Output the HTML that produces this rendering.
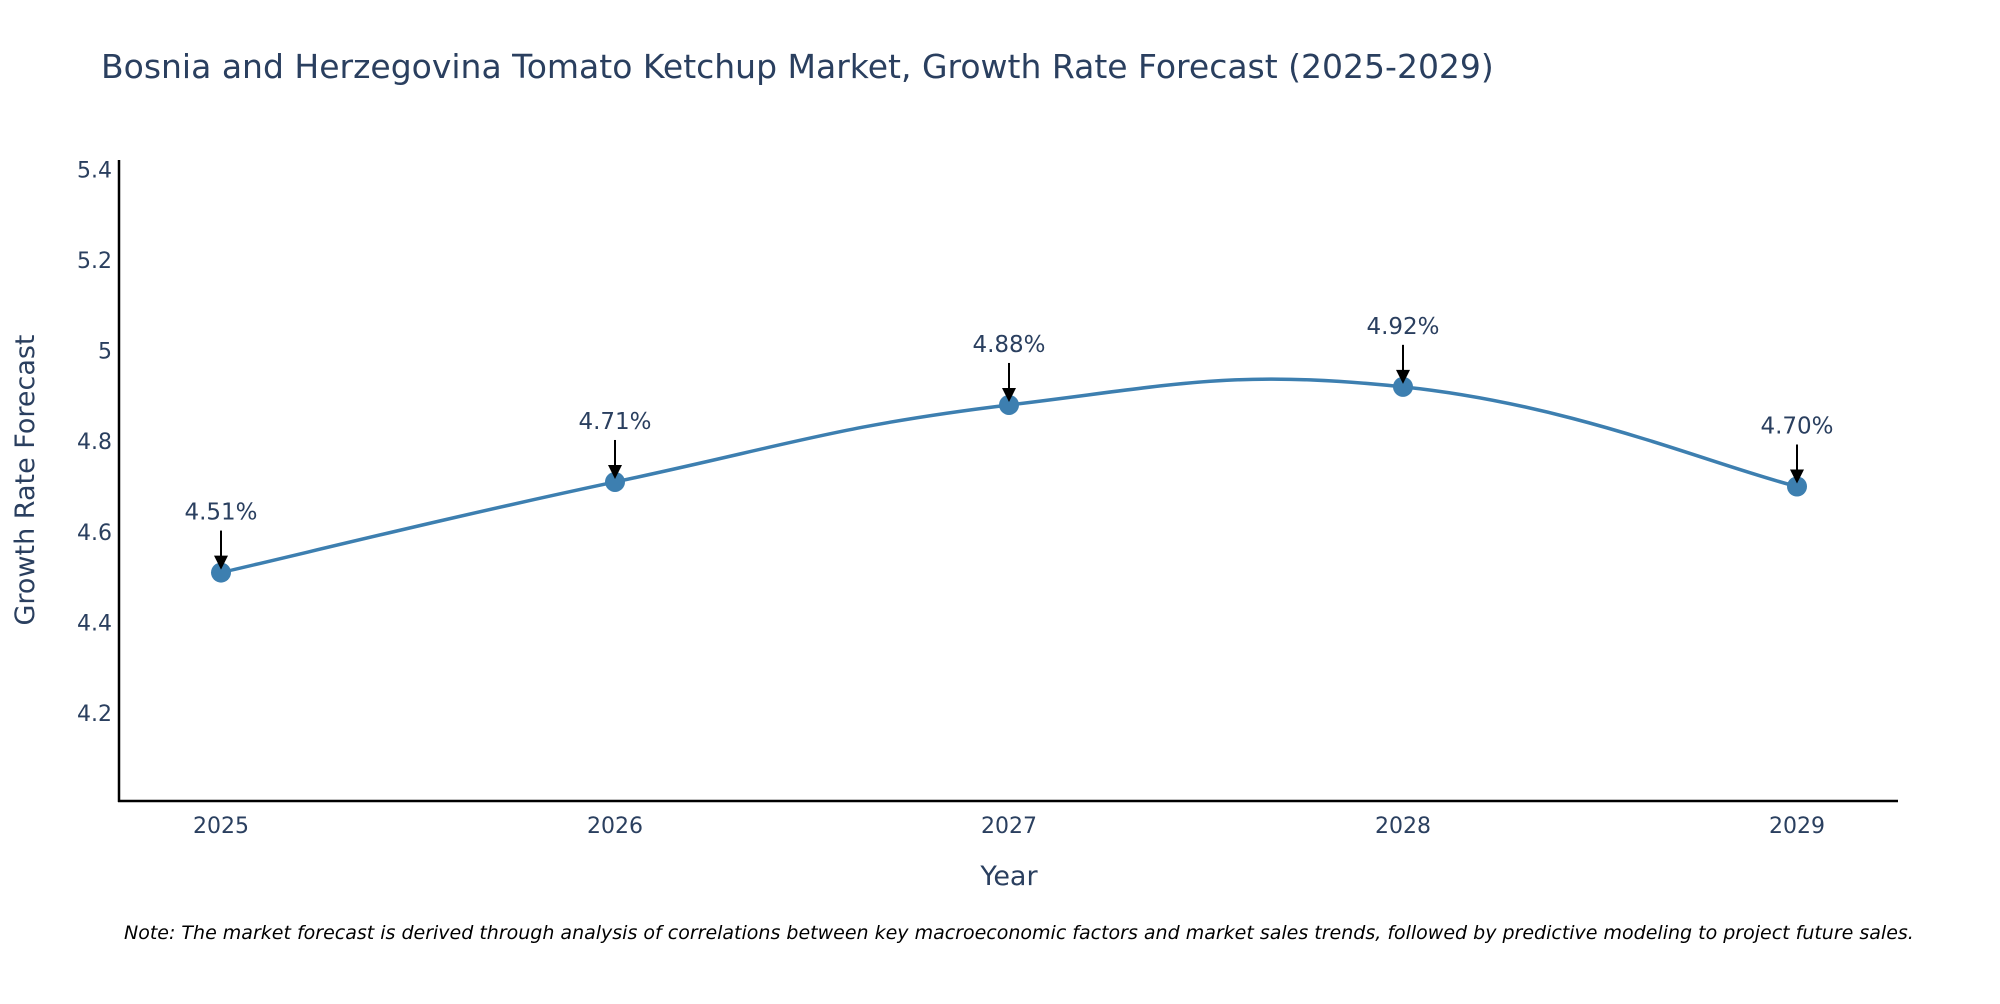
<!DOCTYPE html>
<html><head><meta charset="utf-8"><style>
body{margin:0;background:#fff;width:2000px;height:1000px;overflow:hidden;font-family:"DejaVu Sans","Liberation Sans",sans-serif}
</style></head><body>
<svg id="chart" width="2000" height="1000" xmlns="http://www.w3.org/2000/svg" font-family="DejaVu Sans, Liberation Sans, sans-serif">
<text x="101" y="78" font-size="33" fill="#2a3f5f">Bosnia and Herzegovina Tomato Ketchup Market, Growth Rate Forecast (2025-2029)</text>
<g id="yticks"></g><g id="xticks"></g>
<path id="line" fill="none" stroke="#3d7fb0" stroke-width="3.5"/>
<g id="marks"></g>
<line x1="119" y1="160" x2="119" y2="802" stroke="#000" stroke-width="2.5"/>
<line x1="118" y1="801" x2="1898" y2="801" stroke="#000" stroke-width="2.5"/>
<text transform="translate(34,480) rotate(-90)" text-anchor="middle" font-size="27" fill="#2a3f5f">Growth Rate Forecast</text>
<text x="1009" y="885" text-anchor="middle" font-size="27" fill="#2a3f5f">Year</text>
<text x="124" y="939" font-size="19" font-style="italic" fill="#000">Note: The market forecast is derived through analysis of correlations between key macroeconomic factors and market sales trends, followed by predictive modeling to project future sales.</text>
</svg>
<script>
const years=[2025,2026,2027,2028,2029];
const values=[4.51,4.71,4.88,4.92,4.70];
const labels=["4.51%","4.71%","4.88%","4.92%","4.70%"];
const yTicks=[4.2,4.4,4.6,4.8,5,5.2,5.4];
const yTickLabels=["4.2","4.4","4.6","4.8","5","5.2","5.4"];
const NS="http://www.w3.org/2000/svg";
const xs=y=>221+(y-2025)*394;
const ys=v=>713-(v-4.2)*453;
function mk(t,a,p){const e=document.createElementNS(NS,t);for(const k in a)e.setAttribute(k,a[k]);p.appendChild(e);return e;}
const yt=document.getElementById('yticks');
yTicks.forEach((v,i)=>{const t=mk('text',{x:112,y:ys(v)+8,'text-anchor':'end','font-size':22,fill:'#2a3f5f'},yt);


t.textContent=yTickLabels[i];});
const xt=document.getElementById('xticks');
years.forEach(y=>{const t=mk('text',{x:xs(y),y:833,'text-anchor':'middle','font-size':22,fill:'#2a3f5f'},xt);


t.textContent=y;});
const P=years.map((y,i)=>[xs(y),ys(values[i])]);
let d=`M${P[0][0]},${P[0][1]}`;
for(let i=0;i<P.length-1;i++){const p0=P[i-1]||P[i],p1=P[i],p2=P[i+1],p3=P[i+2]||P[i+1];const k=1/6*1.3;
d+=` C${p1[0]+(p2[0]-p0[0])*k},${p1[1]+(p2[1]-p0[1])*k} ${p2[0]-(p3[0]-p1[0])*k},${p2[1]-(p3[1]-p1[1])*k} ${p2[0]},${p2[1]}`;}
document.getElementById('line').setAttribute('d',d);
const g=document.getElementById('marks');
P.forEach((p,i)=>{
const c=mk('circle',{cx:p[0],cy:p[1],r:10,fill:'#3d7fb0'},g);


const l=mk('line',{x1:p[0],y1:p[1]-42,x2:p[0],y2:p[1]-16,stroke:'#000','stroke-width':2},g);


const h=mk('polygon',{points:`${p[0]-7},${p[1]-17} ${p[0]+7},${p[1]-17} ${p[0]},${p[1]-3}`,fill:'#000'},g);


const t=mk('text',{x:p[0],y:p[1]-53,'text-anchor':'middle','font-size':23,fill:'#2a3f5f'},g);


t.textContent=labels[i];});
</script>
</body></html>
